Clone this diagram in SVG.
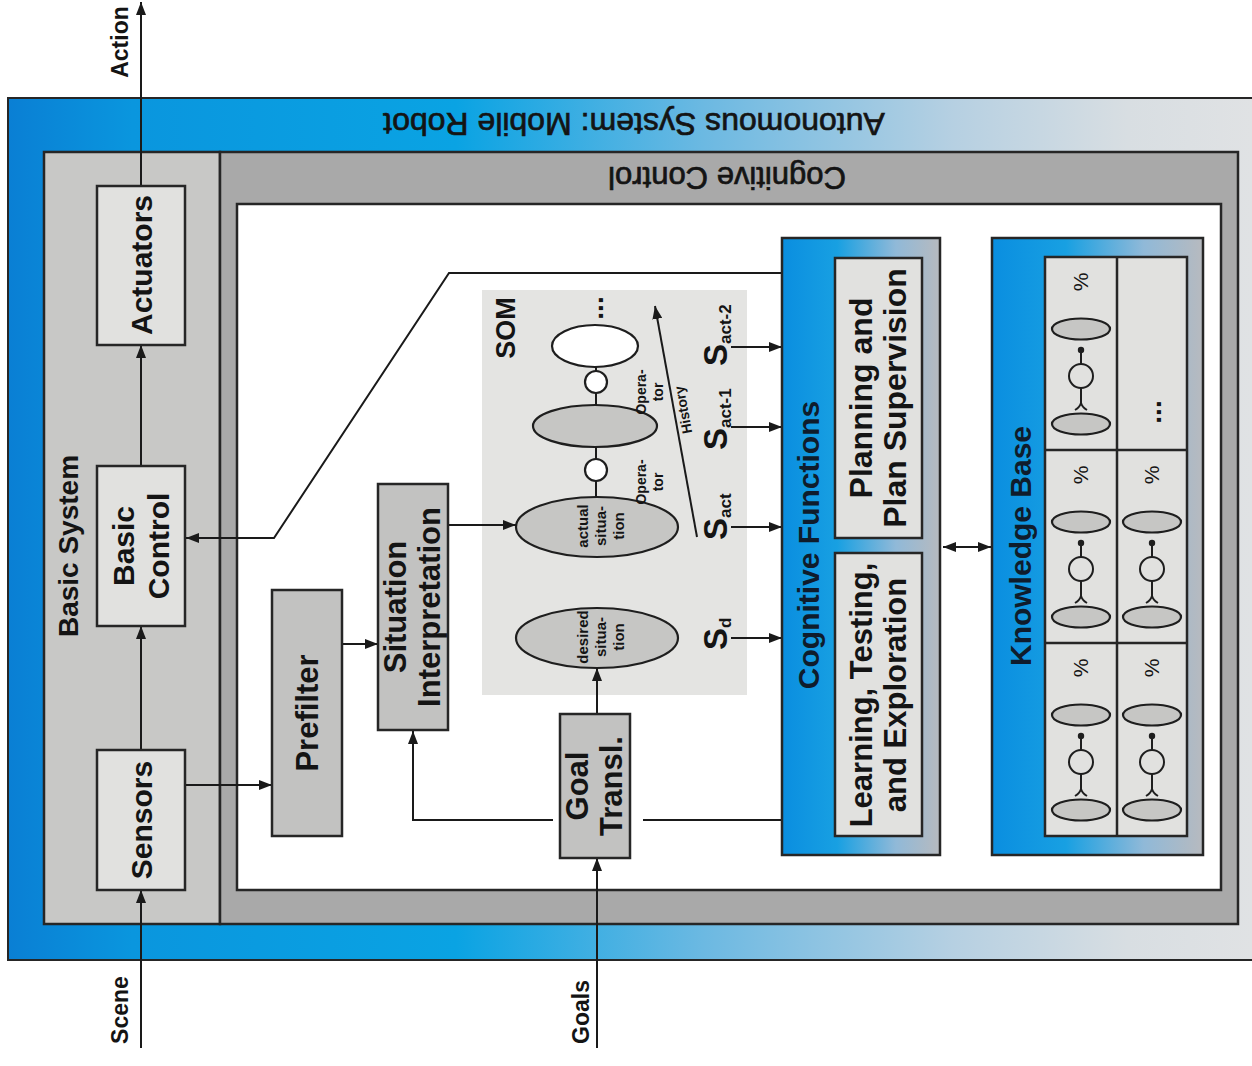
<svg xmlns="http://www.w3.org/2000/svg" width="1252" height="1066" viewBox="0 0 1252 1066">
  <defs>
    <style>
      .lbl { font-family: "Liberation Sans", Arial, sans-serif; font-weight: bold; fill: #141414; text-anchor: middle; }
      .reg { font-family: "Liberation Sans", Arial, sans-serif; fill: #141414; text-anchor: middle; }
      .start { text-anchor: start; }
      .navy { fill: #0f1c2c; }
      .frame { stroke: #262626; stroke-width: 2.5; }
      .light { fill: #e1e1df; stroke: #262626; stroke-width: 2.5; }
      .mid { fill: #c2c2c1; stroke: #262626; stroke-width: 2.5; }
      .grayEl { fill: #c6c6c4; stroke: #1e1e1e; stroke-width: 2.2; }
      .thin { stroke: #1e1e1e; stroke-width: 2; fill: none; }
      .wire { stroke: #1a1a1a; stroke-width: 2; fill: none; }
    </style>
    <linearGradient id="gOuter" x1="8" y1="0" x2="1252" y2="0" gradientUnits="userSpaceOnUse">
      <stop offset="0" stop-color="#0a7fd4"/>
      <stop offset="0.1" stop-color="#0a96de"/>
      <stop offset="0.36" stop-color="#0aa3e3"/>
      <stop offset="0.56" stop-color="#6cb9e2"/>
      <stop offset="0.76" stop-color="#b6d0e2"/>
      <stop offset="0.9" stop-color="#d8dee2"/>
      <stop offset="1" stop-color="#e0e2e4"/>
    </linearGradient>
    <linearGradient id="gBlue" x1="0" y1="0" x2="1" y2="0">
      <stop offset="0" stop-color="#0a8ee0"/>
      <stop offset="0.35" stop-color="#18a0e2"/>
      <stop offset="0.72" stop-color="#90b9d8"/>
      <stop offset="1" stop-color="#b7babf"/>
    </linearGradient>
    <marker id="ah" markerWidth="13" markerHeight="10" refX="13" refY="5" orient="auto-start-reverse" markerUnits="userSpaceOnUse">
      <path d="M0,0 L13,5 L0,10 z" fill="#1a1a1a"/>
    </marker>
    <!-- one knowledge-base entry: situation, operator, situation -->
    <g id="kbcell">
      <text class="reg" font-size="21" transform="translate(0,25) rotate(-90)" y="7">%</text>
      <ellipse cx="0" cy="72" rx="29" ry="10.5" class="grayEl"/>
      <circle cx="0" cy="93" r="3.2" fill="#1e1e1e"/>
      <line x1="0" y1="93" x2="0" y2="107" class="thin"/>
      <circle cx="0" cy="119" r="12" fill="#ffffff" class="thin"/>
      <path d="M0,131 V147 M-6,153 Q-1,150 0,146 Q1,150 6,153" class="thin"/>
      <ellipse cx="0" cy="167" rx="29" ry="10.5" class="grayEl"/>
    </g>
  </defs>

  <rect width="1252" height="1066" fill="#ffffff"/>

  <!-- outer frame -->
  <g id="autonomous-system">
    <rect x="8" y="98" width="1250" height="862" fill="url(#gOuter)" stroke="#262626" stroke-width="2"/>
    <text class="reg" font-size="32" stroke="#141414" stroke-width="0.7" transform="translate(634,124) rotate(180)" y="11">Autonomous System: Mobile Robot</text>
  </g>

  <g id="basic-system">
    <rect x="44" y="152" width="176" height="772" fill="#c8c8c6" class="frame"/>
    <text class="lbl" font-size="28" transform="translate(68,546) rotate(-90)" y="10">Basic System</text>
  </g>

  <g id="cognitive-control">
    <rect x="220" y="152" width="1018" height="772" fill="#a9a9a9" class="frame"/>
    <rect x="237" y="204" width="984" height="686" fill="#ffffff" class="frame"/>
    <text class="reg" font-size="31" stroke="#141414" stroke-width="0.7" transform="translate(727,178) rotate(180)" y="11">Cognitive Control</text>
  </g>

  <!-- situation-operator model -->
  <g id="som">
    <rect x="482" y="290" width="265" height="405" fill="#e4e4e2"/>
    <text class="lbl" font-size="27" transform="translate(505,328) rotate(-90)" y="10">SOM</text>
    <text class="lbl" font-size="28" transform="translate(594,308) rotate(-90)" y="9">...</text>
    <ellipse id="sit-act-2" cx="595" cy="346" rx="43" ry="21" fill="#ffffff" stroke="#1e1e1e" stroke-width="2.2"/>
    <circle id="op-2" cx="596" cy="382" r="11" fill="#ffffff" stroke="#1e1e1e" stroke-width="2.2"/>
    <ellipse id="sit-act-1" cx="595" cy="426" rx="62" ry="21" class="grayEl"/>
    <circle id="op-1" cx="596" cy="470" r="11" fill="#ffffff" stroke="#1e1e1e" stroke-width="2.2"/>
    <g id="actual-situation">
      <ellipse cx="597" cy="527" rx="81" ry="30" class="grayEl"/>
      <text class="lbl" font-size="15" fill="#222" transform="translate(597,526) rotate(-90)">
        <tspan x="0" y="-9">actual</tspan><tspan x="0" y="9">situa-</tspan><tspan x="0" y="27">tion</tspan>
      </text>
    </g>
    <g id="desired-situation">
      <ellipse cx="597" cy="638" rx="81" ry="30" class="grayEl"/>
      <text class="lbl" font-size="15" fill="#222" transform="translate(597,637) rotate(-90)">
        <tspan x="0" y="-9">desired</tspan><tspan x="0" y="9">situa-</tspan><tspan x="0" y="27">tion</tspan>
      </text>
    </g>
    <text class="lbl" font-size="14" transform="translate(649,482) rotate(-90)">
      <tspan x="0" y="-3">Opera-</tspan><tspan x="0" y="14">tor</tspan>
    </text>
    <text class="lbl" font-size="14" transform="translate(649,392) rotate(-90)">
      <tspan x="0" y="-3">Opera-</tspan><tspan x="0" y="14">tor</tspan>
    </text>
    <text class="lbl" font-size="14" transform="translate(683,410) rotate(-100.4)" y="5">History</text>
    <!-- situation vectors handed to the cognitive functions -->
    <text class="lbl start" font-size="33" transform="translate(727,650) rotate(-90)">S<tspan font-size="17" dy="4">d</tspan></text>
    <text class="lbl start" font-size="33" transform="translate(727,540) rotate(-90)">S<tspan font-size="17" dy="4">act</tspan></text>
    <text class="lbl start" font-size="33" transform="translate(727,450) rotate(-90)">S<tspan font-size="17" dy="4">act-1</tspan></text>
    <text class="lbl start" font-size="33" transform="translate(727,366) rotate(-90)">S<tspan font-size="17" dy="4">act-2</tspan></text>
  </g>

  <!-- connectors -->
  <g id="connectors" class="wire">
    <line x1="141" y1="186" x2="141" y2="2" marker-end="url(#ah)"/>
    <line x1="141" y1="466" x2="141" y2="345" marker-end="url(#ah)"/>
    <line x1="141" y1="750" x2="141" y2="626" marker-end="url(#ah)"/>
    <line x1="141" y1="1048" x2="141" y2="890" marker-end="url(#ah)"/>
    <line x1="597" y1="1048" x2="597" y2="858" marker-end="url(#ah)"/>
    <line x1="185" y1="785" x2="272" y2="785" marker-end="url(#ah)"/>
    <line x1="342" y1="644" x2="378" y2="644" marker-end="url(#ah)"/>
    <line x1="448" y1="525" x2="516" y2="525" marker-end="url(#ah)"/>
    <line x1="597" y1="714" x2="597" y2="668" marker-end="url(#ah)"/>
    <polyline points="782,273 449,273 274,538 186,538" marker-end="url(#ah)"/>
    <line x1="782" y1="820" x2="643" y2="820"/>
    <polyline points="553,820 413,820 413,731" marker-end="url(#ah)"/>
    <line x1="943" y1="547" x2="991" y2="547" marker-start="url(#ah)" marker-end="url(#ah)"/>
    <line x1="731" y1="638" x2="782" y2="638" marker-end="url(#ah)"/>
    <line x1="731" y1="527" x2="782" y2="527" marker-end="url(#ah)"/>
    <line x1="731" y1="427" x2="782" y2="427" marker-end="url(#ah)"/>
    <line x1="731" y1="347" x2="782" y2="347" marker-end="url(#ah)"/>
    <line x1="697" y1="537" x2="655" y2="306" marker-end="url(#ah)"/>
    <line x1="596" y1="497" x2="596" y2="481"/>
    <line x1="596" y1="459" x2="596" y2="447"/>
    <line x1="596" y1="405" x2="596" y2="393"/>
    <line x1="596" y1="371" x2="596" y2="367"/>
  </g>

  <!-- external signal labels -->
  <text class="lbl" font-size="23" transform="translate(120,42) rotate(-90)" y="8">Action</text>
  <text class="lbl" font-size="23" transform="translate(120,1010) rotate(-90)" y="8">Scene</text>
  <text class="lbl" font-size="23" transform="translate(581,1012) rotate(-90)" y="8">Goals</text>

  <!-- basic system nodes -->
  <g id="actuators">
    <rect x="97" y="186" width="88" height="159" class="light"/>
    <text class="lbl" font-size="30" transform="translate(141,265) rotate(-90)" y="11">Actuators</text>
  </g>
  <g id="basic-control">
    <rect x="97" y="466" width="88" height="160" class="light"/>
    <text class="lbl" font-size="30" transform="translate(141,546) rotate(-90)">
      <tspan x="0" y="-7">Basic</tspan><tspan x="0" y="28">Control</tspan>
    </text>
  </g>
  <g id="sensors">
    <rect x="97" y="750" width="88" height="140" class="light"/>
    <text class="lbl" font-size="30" transform="translate(141,820) rotate(-90)" y="11">Sensors</text>
  </g>

  <!-- perception path -->
  <g id="prefilter">
    <rect x="272" y="590" width="70" height="246" class="mid"/>
    <text class="lbl" font-size="31" transform="translate(307,713) rotate(-90)" y="11">Prefilter</text>
  </g>
  <g id="situation-interpretation">
    <rect x="378" y="484" width="70" height="246" class="mid"/>
    <text class="lbl" font-size="31" transform="translate(413,607) rotate(-90)">
      <tspan x="0" y="-7">Situation</tspan><tspan x="0" y="27">Interpretation</tspan>
    </text>
  </g>
  <g id="goal-translation">
    <rect x="560" y="714" width="70" height="144" class="mid"/>
    <text class="lbl" font-size="31" transform="translate(595,786) rotate(-90)">
      <tspan x="0" y="-7">Goal</tspan><tspan x="0" y="27">Transl.</tspan>
    </text>
  </g>

  <!-- cognitive functions -->
  <g id="cognitive-functions">
    <rect x="782" y="238" width="158" height="617" fill="url(#gBlue)" class="frame"/>
    <text class="lbl navy" font-size="30" transform="translate(808,545) rotate(-90)" y="11">Cognitive Functions</text>
    <g id="learning">
      <rect x="835" y="553" width="87" height="283" class="light"/>
      <text class="lbl" font-size="31" transform="translate(878,695) rotate(-90)">
        <tspan x="0" y="-6">Learning, Testing,</tspan><tspan x="0" y="28">and Exploration</tspan>
      </text>
    </g>
    <g id="planning">
      <rect x="835" y="258" width="87" height="280" class="light"/>
      <text class="lbl" font-size="32" transform="translate(878,398) rotate(-90)">
        <tspan x="0" y="-6">Planning and</tspan><tspan x="0" y="28">Plan Supervision</tspan>
      </text>
    </g>
  </g>

  <!-- knowledge base -->
  <g id="knowledge-base">
    <rect x="992" y="238" width="211" height="617" fill="url(#gBlue)" class="frame"/>
    <text class="lbl navy" font-size="30" transform="translate(1020,546) rotate(-90)" y="11">Knowledge Base</text>
    <rect x="1045" y="257" width="142" height="579" class="light"/>
    <line x1="1117" y1="257" x2="1117" y2="836" class="frame"/>
    <line x1="1045" y1="450" x2="1187" y2="450" class="frame"/>
    <line x1="1045" y1="643" x2="1187" y2="643" class="frame"/>
    <use href="#kbcell" x="1081" y="257"/>
    <use href="#kbcell" x="1081" y="450"/>
    <use href="#kbcell" x="1152" y="450"/>
    <use href="#kbcell" x="1081" y="643"/>
    <use href="#kbcell" x="1152" y="643"/>
    <text class="lbl" font-size="28" transform="translate(1152,412) rotate(-90)" y="9">...</text>
  </g>
</svg>
